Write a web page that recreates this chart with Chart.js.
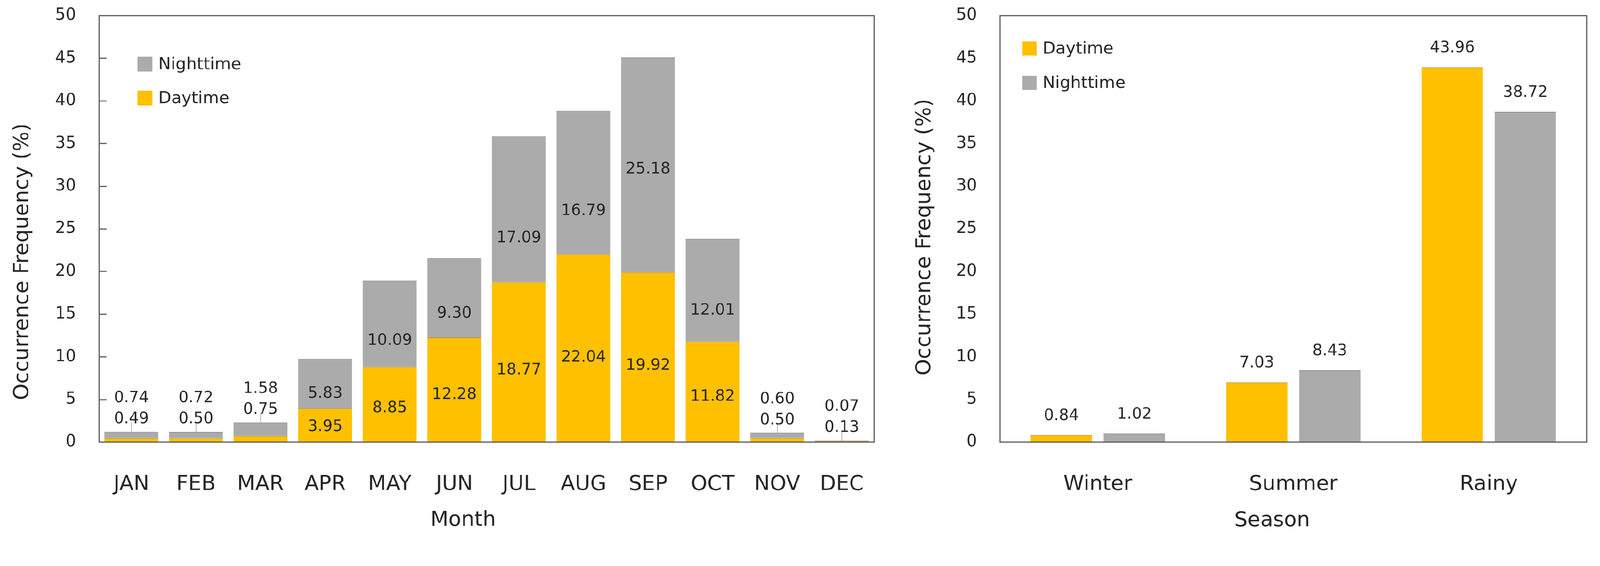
<!DOCTYPE html>
<html>
<head>
<meta charset="utf-8">
<script src="https://cdn.jsdelivr.net/npm/chart.js@4.4.1/dist/chart.umd.min.js"></script>
<style>
  html, body { margin: 0; padding: 0; background: #fff; overflow: hidden; }
  #wrap { position: absolute; left: 0; top: 0; width: 4294px; height: 1448px; transform-origin: 0 0; }
  .box { position: absolute; top: 0; height: 1448px; }
  #monthBox { left: 0; width: 2420px; }
  #seasonBox { left: 2420px; width: 1874px; }
</style>
</head>
<body>
<div id="wrap">
  <div class="box" id="monthBox"><canvas id="monthChart"></canvas></div>
  <div class="box" id="seasonBox"><canvas id="seasonChart"></canvas></div>
</div>
<script>
// fit the 4294x1448 layout into whatever viewport we get
const k = Math.min(window.innerWidth / 4294, window.innerHeight / 1448);
document.getElementById('wrap').style.transform = `scale(${k})`;

// data
const months = ['JAN', 'FEB', 'MAR', 'APR', 'MAY', 'JUN', 'JUL', 'AUG', 'SEP', 'OCT', 'NOV', 'DEC'];
const monthDay = [0.49, 0.50, 0.75, 3.95, 8.85, 12.28, 18.77, 22.04, 19.92, 11.82, 0.50, 0.13];
const monthNight = [0.74, 0.72, 1.58, 5.83, 10.09, 9.30, 17.09, 16.79, 25.18, 12.01, 0.60, 0.07];

const seasons = ['Winter', 'Summer', 'Rainy'];
const seasonDay = [0.84, 7.03, 43.96];
const seasonNight = [1.02, 8.43, 38.72];

const yTicks = [0, 5, 10, 15, 20, 25, 30, 35, 40, 45, 50];

const FONT = "'DejaVu Sans', sans-serif";
const DAY = '#FFC000';
const NIGHT = '#ABABAB';
const TEXT = '#262626';

// plot frame + optional inward ticks on the y axis
const frame = {
  id: 'frame',
  afterDatasetsDraw(chart, args, opts) {
    const { ctx, chartArea: a } = chart;
    const y = chart.scales.y;
    ctx.save();
    ctx.strokeStyle = '#595959';
    ctx.lineWidth = 3;
    ctx.strokeRect(a.left, a.top, a.right - a.left, a.bottom - a.top);
    if (opts.innerTicks) {
      y.ticks.forEach(t => {
        if (t.value <= y.min || t.value >= y.max) return;
        const py = Math.round(y.getPixelForValue(t.value));
        ctx.beginPath();
        ctx.moveTo(a.left, py);
        ctx.lineTo(a.left + 20, py);
        ctx.stroke();
      });
    }
    ctx.restore();
  }
};

// axis titles, drawn by hand since they sit a little off-centre
const axisTitles = {
  id: 'axisTitles',
  afterDraw(chart, args, opts) {
    const { ctx, chartArea: a } = chart;
    ctx.save();
    ctx.font = `56px ${FONT}`;
    ctx.fillStyle = TEXT;
    ctx.textAlign = 'center';
    ctx.textBaseline = 'middle';
    ctx.fillText(opts.x, (a.left + a.right) / 2 + opts.xdx, opts.xy);
    ctx.translate(opts.yx, (a.top + a.bottom) / 2 + opts.ydy);
    ctx.rotate(-Math.PI / 2);
    ctx.fillText(opts.y, 0, 0);
    ctx.restore();
  }
};

// legend inside the plot area
const boxLegend = {
  id: 'boxLegend',
  afterDraw(chart, args, opts) {
    const { ctx, chartArea: a } = chart;
    ctx.save();
    ctx.font = `45px ${FONT}`;
    ctx.textBaseline = 'middle';
    ctx.textAlign = 'left';
    opts.order.forEach((di, k) => {
      const ds = chart.data.datasets[di];
      const x = a.left + opts.dx;
      const y = a.top + opts.dy + k * opts.step;
      ctx.fillStyle = ds.backgroundColor;
      ctx.fillRect(x, y, opts.size, opts.size);
      ctx.fillStyle = TEXT;
      ctx.fillText(ds.label, x + opts.size + 16, y + opts.size / 2 + 2);
    });
    ctx.restore();
  }
};

// value labels for the stacked monthly bars
const stackLabels = {
  id: 'stackLabels',
  afterDatasetsDraw(chart, args, opts) {
    const { ctx } = chart;
    const dMeta = chart.getDatasetMeta(0);
    const nMeta = chart.getDatasetMeta(1);
    ctx.save();
    ctx.font = `42px ${FONT}`;
    ctx.fillStyle = TEXT;
    ctx.textAlign = 'center';
    ctx.textBaseline = 'middle';
    ctx.strokeStyle = '#999';
    ctx.lineWidth = 1.5;
    months.forEach((m, i) => {
      const d = dMeta.data[i], n = nMeta.data[i];
      const x = d.x;
      const dTxt = monthDay[i].toFixed(2), nTxt = monthNight[i].toFixed(2);
      if (monthDay[i] + monthNight[i] < 3) {
        // tiny bars: labels stacked above with a leader line
        const top = n.y;
        const dy = top - 34, ny = top - 90;
        ctx.beginPath();
        ctx.moveTo(x, dy + 8);
        ctx.lineTo(x, top);
        ctx.stroke();
        ctx.fillText(dTxt, x, dy);
        ctx.fillText(nTxt, x, ny);
      } else {
        const nf = opts.nightAt[m] !== undefined ? opts.nightAt[m] : 0.3;
        ctx.fillText(dTxt, x, d.base - 0.45 * (d.base - d.y));
        ctx.fillText(nTxt, x, n.base - nf * (n.base - n.y));
      }
    });
    ctx.restore();
  }
};

// value labels above the seasonal bars
const topLabels = {
  id: 'topLabels',
  afterDatasetsDraw(chart) {
    const { ctx } = chart;
    ctx.save();
    ctx.font = `42px ${FONT}`;
    ctx.fillStyle = TEXT;
    ctx.textAlign = 'center';
    ctx.textBaseline = 'middle';
    chart.data.datasets.forEach((ds, di) => {
      chart.getDatasetMeta(di).data.forEach((bar, i) => {
        ctx.fillText(ds.data[i].toFixed(2), bar.x, bar.y - 51);
      });
    });
    ctx.restore();
  }
};

function yAxis(width) {
  return {
    min: 0,
    max: 50,
    afterBuildTicks: s => { s.ticks = yTicks.map(v => ({ value: v })); },
    afterFit: s => { s.width = width; s.paddingTop = 0; s.paddingBottom = 0; },
    ticks: { padding: 62, color: TEXT, font: { family: FONT, size: 44 } },
    grid: { display: false, drawTicks: false },
    border: { display: false }
  };
}

function xAxis() {
  return {
    afterFit: s => { s.height = 262; s.paddingLeft = 0; s.paddingRight = 0; },
    ticks: { padding: 80, color: TEXT, font: { family: FONT, size: 56 }, maxRotation: 0 },
    grid: { display: false, drawTicks: false },
    border: { display: false }
  };
}

new Chart(document.getElementById('monthChart'), {
  type: 'bar',
  data: {
    labels: months,
    datasets: [
      { label: 'Daytime', data: monthDay, backgroundColor: DAY, borderColor: '#B8923A',
        borderWidth: { top: 2, left: 0, right: 0, bottom: 0 } },
      { label: 'Nighttime', data: monthNight, backgroundColor: NIGHT, borderColor: '#8E8E8E',
        borderWidth: { top: 2, left: 0, right: 0, bottom: 0 } }
    ]
  },
  options: {
    responsive: true,
    maintainAspectRatio: false,
    animation: false,
    categoryPercentage: 1,
    barPercentage: 0.837,
    layout: { padding: { top: 42, right: 74, bottom: 0, left: 0 } },
    scales: {
      x: Object.assign(xAxis(), { stacked: true }),
      y: Object.assign(yAxis(266), { stacked: true })
    },
    plugins: {
      legend: { display: false },
      tooltip: { enabled: false },
      frame: { innerTicks: true },
      axisTitles: { x: 'Month', xdx: -63, xy: 1395, y: 'Occurrence Frequency (%)', yx: 60, ydy: 88 },
      boxLegend: { order: [1, 0], dx: 103, dy: 110, step: 91, size: 40 },
      stackLabels: { nightAt: { SEP: 0.48 } }
    }
  },
  plugins: [frame, axisTitles, boxLegend, stackLabels]
});

new Chart(document.getElementById('seasonChart'), {
  type: 'bar',
  data: {
    labels: seasons,
    datasets: [
      { label: 'Daytime', data: seasonDay, backgroundColor: DAY, borderColor: '#B8923A',
        borderWidth: { top: 2, left: 0, right: 0, bottom: 0 } },
      { label: 'Nighttime', data: seasonNight, backgroundColor: NIGHT, borderColor: '#8E8E8E',
        borderWidth: { top: 2, left: 0, right: 0, bottom: 0 } }
    ]
  },
  options: {
    responsive: true,
    maintainAspectRatio: false,
    animation: false,
    categoryPercentage: 0.747,
    barPercentage: 0.84,
    layout: { padding: { top: 42, right: 36, bottom: 0, left: 0 } },
    scales: {
      x: xAxis(),
      y: yAxis(264)
    },
    plugins: {
      legend: { display: false },
      tooltip: { enabled: false },
      frame: { innerTicks: false },
      axisTitles: { x: 'Season', xdx: -57, xy: 1396, y: 'Occurrence Frequency (%)', yx: 61, ydy: 22 },
      boxLegend: { order: [0, 1], dx: 60, dy: 69, step: 92, size: 38 }
    }
  },
  plugins: [frame, axisTitles, boxLegend, topLabels]
});
</script>
</body>
</html>
